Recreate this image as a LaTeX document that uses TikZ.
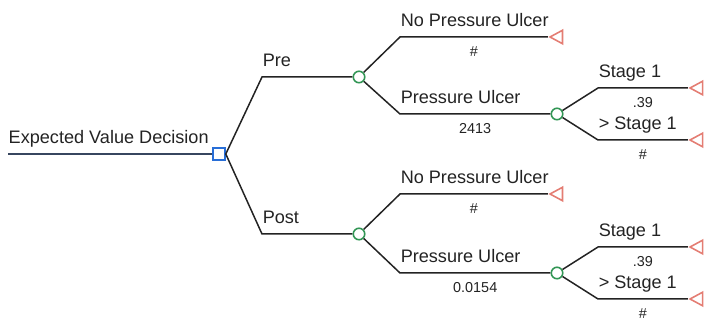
\documentclass[tikz,border=0pt]{standalone}
\usepackage{fontspec}
\setmainfont{Liberation Sans}
\usetikzlibrary{shapes.geometric}
\definecolor{decblue}{RGB}{40,110,215}
\definecolor{chgreen}{RGB}{50,150,85}
\definecolor{termred}{RGB}{228,125,115}
\definecolor{ink}{RGB}{35,35,35}
\definecolor{rootline}{RGB}{55,70,95}
\begin{document}
\begin{tikzpicture}
\useasboundingbox (0, 0) rectangle (14.5, 6.42);

\tikzstyle{dec}=[draw=decblue, fill=white, line width=0.9pt, minimum size=0.24cm, inner sep=0pt];
\tikzstyle{ch}=[draw=chgreen, circle, fill=white, line width=0.9pt, minimum size=0.23cm, inner sep=0pt];
\tikzstyle{term}=[draw=termred, fill=white, isosceles triangle, shape border rotate=180, isosceles triangle stretches, minimum width=0.27cm, minimum height=0.25cm, inner sep=0pt, line width=0.9pt];
\tikzstyle{ln}=[draw=ink, line width=0.85pt];
\tikzstyle{lbl}=[anchor=base west, inner sep=0pt, yshift=0.2cm, text=ink, font=\fontsize{10.3}{12}\selectfont];
\tikzstyle{pb}=[anchor=north, inner sep=0pt, yshift=-0.18cm, text=ink, font=\fontsize{8.2}{10}\selectfont];

% root and decision
\coordinate (start) at (0.16, 3.34);
\node[dec] (d) at (4.38, 3.34) {};

% first level
\coordinate (pre) at (5.24, 4.88);
\node[ch] (c1) at (7.18, 4.88) {};
\coordinate (post) at (5.24, 1.74);
\node[ch] (c2) at (7.18, 1.74) {};

% Pre branch
\coordinate (a1) at (8.0, 5.68);
\node[term] (t1) at (11.17, 5.68) {};
\coordinate (b1) at (8.0, 4.14);
\node[ch] (c3) at (11.14, 4.14) {};
\coordinate (s1) at (11.96, 4.66);
\node[term] (t2) at (13.97, 4.66) {};
\coordinate (s2) at (11.96, 3.62);
\node[term] (t3) at (13.97, 3.62) {};

% Post branch
\coordinate (a2) at (8.0, 2.54);
\node[term] (t4) at (11.17, 2.54) {};
\coordinate (b2) at (8.0, 0.96);
\node[ch] (c4) at (11.14, 0.96) {};
\coordinate (s3) at (11.96, 1.48);
\node[term] (t5) at (13.97, 1.48) {};
\coordinate (s4) at (11.96, 0.44);
\node[term] (t6) at (13.97, 0.44) {};

\draw[ln, draw=rootline] (start) -- node[pos=0, lbl] {Expected Value Decision} (d);

\draw[ln] (d.east) -- (pre) -- node[pos=0, lbl] {Pre} (c1);
\draw[ln] (d.east) -- (post) -- node[pos=0, lbl] {Post} (c2);

\draw[ln] (c1) -- (a1) -- node[pos=0, lbl] {No Pressure Ulcer} node[pb] {\#} (t1);
\draw[ln] (c1) -- (b1) -- node[pos=0, lbl] {Pressure Ulcer} node[pb] {2413} (c3);
\draw[ln] (c3) -- (s1) -- node[pos=0, lbl] {Stage 1} node[pb] {.39} (t2);
\draw[ln] (c3) -- (s2) -- node[pos=0, lbl] {> Stage 1} node[pb] {\#} (t3);

\draw[ln] (c2) -- (a2) -- node[pos=0, lbl] {No Pressure Ulcer} node[pb] {\#} (t4);
\draw[ln] (c2) -- (b2) -- node[pos=0, lbl] {Pressure Ulcer} node[pb] {0.0154} (c4);
\draw[ln] (c4) -- (s3) -- node[pos=0, lbl] {Stage 1} node[pb] {.39} (t5);
\draw[ln] (c4) -- (s4) -- node[pos=0, lbl] {> Stage 1} node[pb] {\#} (t6);
\end{tikzpicture}
\end{document}
